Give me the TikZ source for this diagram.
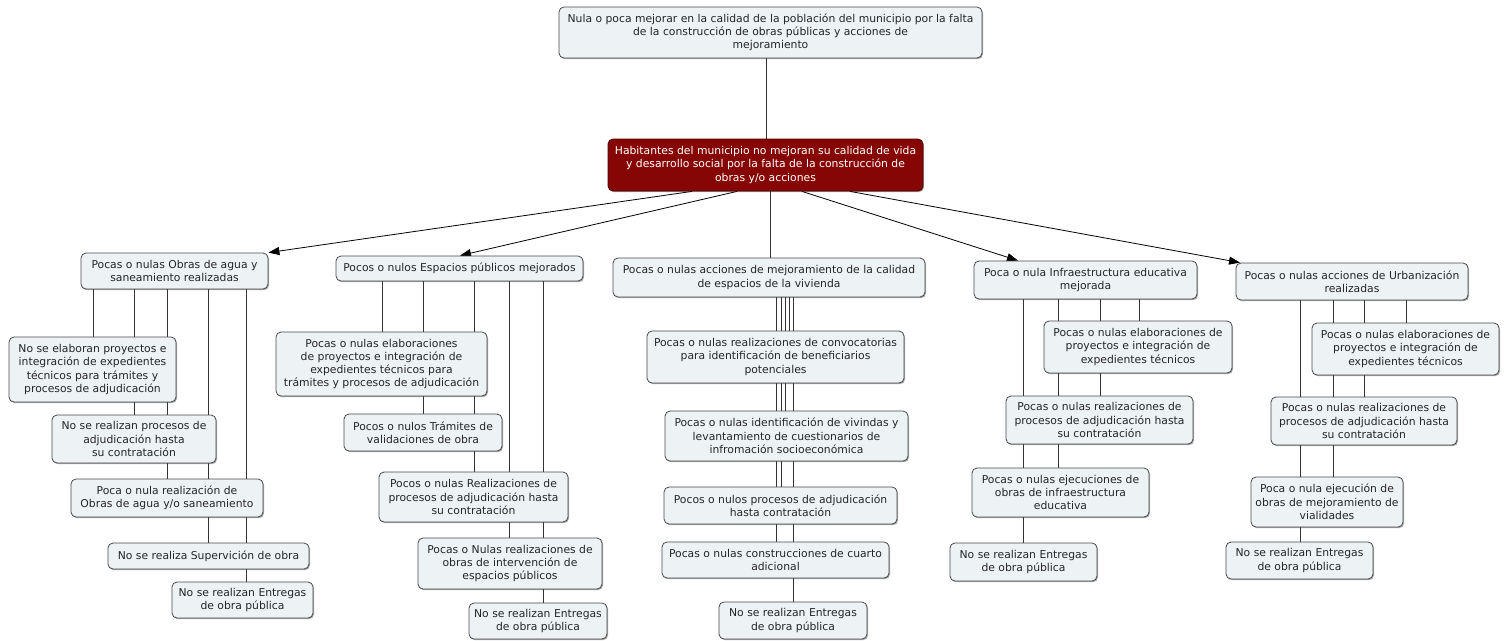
\documentclass[tikz,border=0pt]{standalone}
\usepackage{fontspec}
\setmainfont{DejaVu Sans}
\usetikzlibrary{arrows.meta,backgrounds,shadows}
\definecolor{boxfill}{HTML}{EDF2F4}
\definecolor{boxline}{HTML}{4A4A4A}
\definecolor{redfill}{HTML}{860606}
\definecolor{linecol}{HTML}{333333}
\tikzset{
  cbox/.style={draw=boxline, fill=boxfill, rounded corners=5pt, line width=0.8pt,
    align=center, font=\fontsize{10.8}{13.3}\selectfont, text=black!85, inner sep=2pt,
    drop shadow={shadow xshift=1pt, shadow yshift=-1.2pt, opacity=0.35, fill=black}},
  rbox/.style={cbox, fill=redfill, draw=redfill!60!black, text=white},
  link/.style={draw=linecol, line width=0.8pt},
  arr/.style={link, draw=black, -{Triangle[length=11pt,width=8pt]}},
}
\newcommand\bx[6][cbox]{\node[#1, minimum width=#4pt, minimum height=#5pt] (#2) at (#3) {#6};}
\newcommand\vlink[3]{\draw[link] (#1.south -| #3,0) -- (#2.north -| #3,0);}
\begin{document}
\begin{tikzpicture}[x=1pt,y=-1pt]
\useasboundingbox (0,0) rectangle (1507,640);
% top
\bx{T}{770.5,32.5}{423}{51}{Nula o poca mejorar en la calidad de la población del municipio por la falta\\ de la construcción de obras públicas y acciones de\\ mejoramiento}
\bx[rbox]{R}{765.5,165}{315}{52}{Habitantes del municipio no mejoran su calidad de vida\\ y desarrollo social por la falta de la construcción de\\ obras y/o acciones}
% A
\bx{A}{174.5,271}{187}{36}{Pocas o nulas Obras de agua y\\ saneamiento realizadas}
\bx{A1}{92.5,369.5}{167}{65}{No se elaboran proyectos e\\ integración de expedientes\\ técnicos para trámites y\\ procesos de adjudicación}
\bx{A2}{134,439}{164}{48}{No se realizan procesos de\\ adjudicación hasta\\ su contratación}
\bx{A3}{167,498}{192}{38}{Poca o nula realización de\\ Obras de agua y/o saneamiento}
\bx{A4}{208.5,556}{201}{26}{No se realiza Supervición de obra}
\bx{A5}{242.5,600}{141}{36}{No se realizan Entregas\\ de obra pública}
% B
\bx{B}{459.5,268.5}{247}{25}{Pocos o nulos Espacios públicos mejorados}
\bx{B1}{381.5,364}{211}{64}{Pocas o nulas elaboraciones\\ de proyectos e integración de\\ expedientes técnicos para\\ trámites y procesos de adjudicación}
\bx{B2}{423,432.5}{158}{37}{Pocos o nulos Trámites de\\ validaciones de obra}
\bx{B3}{473.5,497}{189}{50}{Pocos o nulas Realizaciones de\\ procesos de adjudicación hasta\\ su contratación}
\bx{B4}{510,563.5}{184}{51}{Pocas o Nulas realizaciones de\\ obras de intervención de\\ espacios públicos}
\bx{B5}{538,621}{138}{36}{No se realizan Entregas\\ de obra pública}
% C
\bx{C}{769,277.5}{312}{39}{Pocas o nulas acciones de mejoramiento de la calidad\\ de espacios de la vivienda}
\bx{C1}{775.5,357}{257}{52}{Pocas o nulas realizaciones de convocatorias\\ para identificación de beneficiarios\\ potenciales}
\bx{C2}{786.5,436}{243}{50}{Pocas o nulas identificación de vivindas y\\ levantamiento de cuestionarios de\\ infromación socioeconómica}
\bx{C3}{780.5,505.5}{233}{37}{Pocos o nulos procesos de adjudicación\\ hasta contratación}
\bx{C4}{775.5,560}{227}{36}{Pocas o nulas construcciones de cuarto\\ adicional}
\bx{C5}{793,620.5}{148}{37}{No se realizan Entregas\\ de obra pública}
% D
\bx{D}{1085.5,280}{223}{38}{Poca o nula Infraestructura educativa\\ mejorada}
\bx{D1}{1138,347}{188}{52}{Pocas o nulas elaboraciones de\\ proyectos e integración de\\ expedientes técnicos}
\bx{D2}{1099.5,420}{187}{48}{Pocas o nulas realizaciones de\\ procesos de adjudicación hasta\\ su contratación}
\bx{D3}{1060.5,492.5}{177}{49}{Pocas o nulas ejecuciones de\\ obras de infraestructura\\ educativa}
\bx{D4}{1023.5,562}{147}{38}{No se realizan Entregas\\ de obra pública}
% E
\bx{E}{1352,281.5}{232}{37}{Pocas o nulas acciones de Urbanización\\ realizadas}
\bx{E1}{1405.5,349}{187}{52}{Pocas o nulas elaboraciones de\\ proyectos e integración de\\ expedientes técnicos}
\bx{E2}{1364,421}{186}{48}{Pocas o nulas realizaciones de\\ procesos de adjudicación hasta\\ su contratación}
\bx{E3}{1327,502}{152}{50}{Poca o nula ejecución de\\ obras de mejoramiento de\\ vialidades}
\bx{E4}{1299.5,560.5}{147}{37}{No se realizan Entregas\\ de obra pública}
\begin{scope}[on background layer]
\fill[white] (0,0) rectangle (1507,640);
\vlink{T}{R}{766}
\vlink{R}{C}{770}
\draw[arr] (R.south -| 692,0) -- (A.north east);
\draw[arr] (R.south -| 737,0) -- (B.north -| 460,0);
\draw[arr] (R.south -| 802,0) -- (D.north -| 1018,0);
\draw[arr] (R.south -| 850,0) -- (E.north -| 1240,0);
% A links
\vlink{A}{A1}{93}
\vlink{A}{A2}{134}
\vlink{A}{A3}{167}
\vlink{A}{A4}{208}
\vlink{A}{A5}{246}
% B links
\vlink{B}{B1}{382}
\vlink{B}{B2}{423}
\vlink{B}{B3}{474}
\vlink{B}{B4}{509}
\vlink{B}{B5}{543}
% C links
\vlink{C}{C1}{789}
\vlink{C}{C2}{785}
\vlink{C}{C3}{781}
\vlink{C}{C4}{776}
\vlink{C}{C5}{793}
% D links
\vlink{D}{D1}{1139}
\vlink{D}{D2}{1100}
\vlink{D}{D3}{1058}
\vlink{D}{D4}{1023}
% E links
\vlink{E}{E1}{1406}
\vlink{E}{E2}{1364}
\vlink{E}{E3}{1333}
\vlink{E}{E4}{1300}
\end{scope}
\end{tikzpicture}
\end{document}
